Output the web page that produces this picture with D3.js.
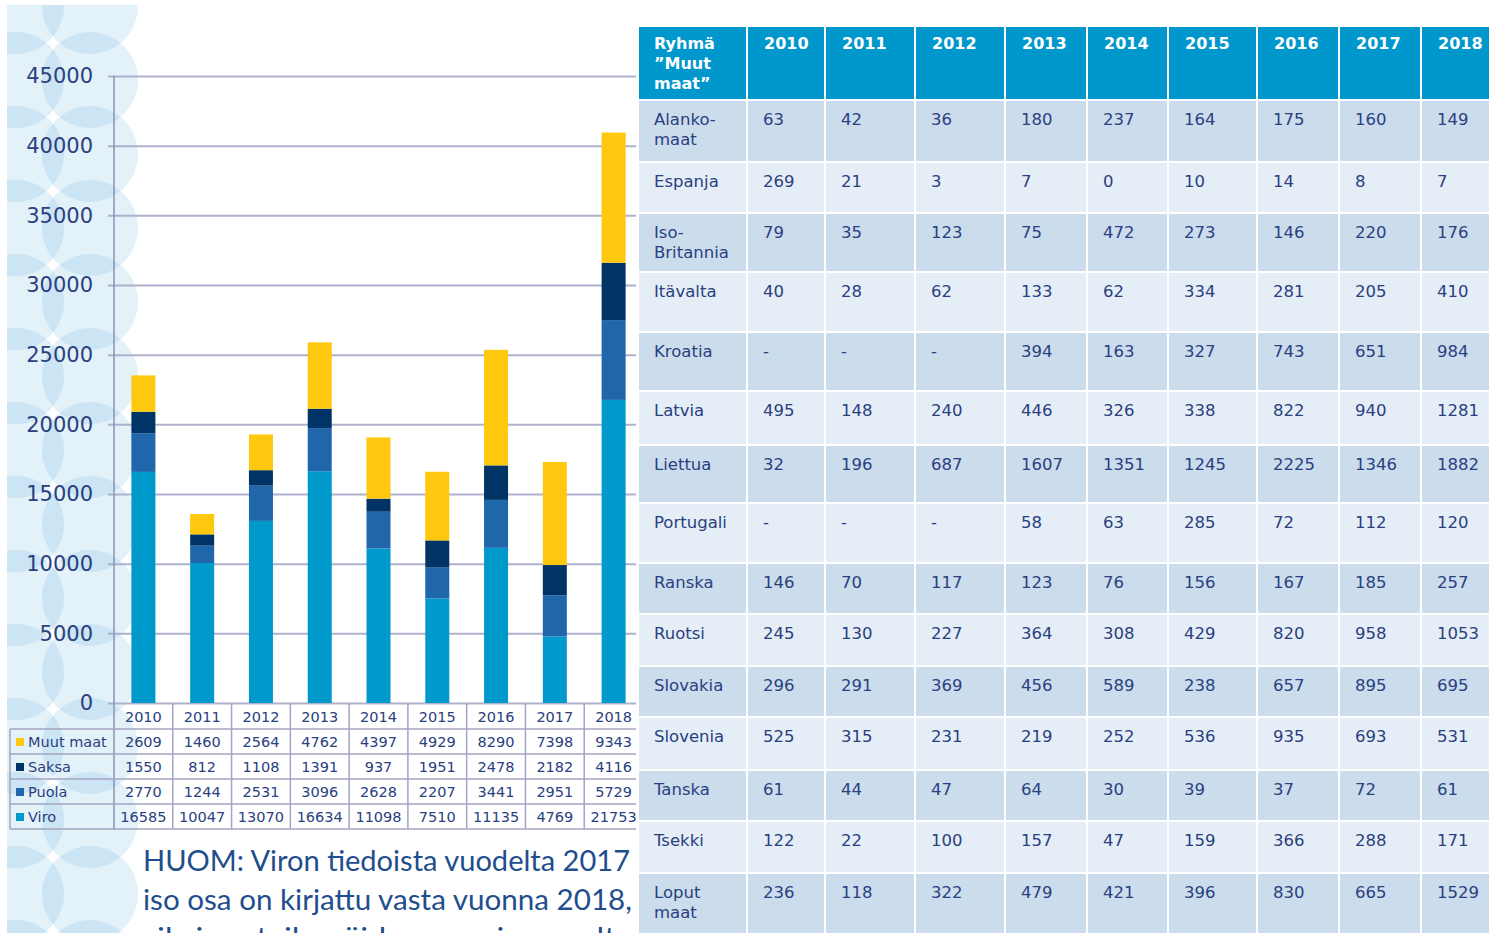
<!DOCTYPE html>
<html>
<head>
<meta charset="utf-8">
<script src="https://cdn.jsdelivr.net/npm/d3@7"></script>
<style>
  body { margin: 0; background: #fff; }
  svg { display: block; }
</style>
</head>
<body>
<svg id="chart" width="1489" height="933"></svg>
<script>
// chart data
const years = ['2010', '2011', '2012', '2013', '2014', '2015', '2016', '2017', '2018'];
const viro = [16585, 10047, 13070, 16634, 11098, 7510, 11135, 4769, 21753];
const puola = [2770, 1244, 2531, 3096, 2628, 2207, 3441, 2951, 5729];
const saksa = [1550, 812, 1108, 1391, 937, 1951, 2478, 2182, 4116];
const muutMaat = [2609, 1460, 2564, 4762, 4397, 4929, 8290, 7398, 9343];
const yTicks = [0, 5000, 10000, 15000, 20000, 25000, 30000, 35000, 40000, 45000];

// table of the "Muut maat" group, null = '-'
const groupHeader = ['Ryhmä', '”Muut', 'maat”'];
const groupLabels = [
    ['Alanko-', 'maat'], ['Espanja'], ['Iso-', 'Britannia'], ['Itävalta'], ['Kroatia'],
    ['Latvia'], ['Liettua'], ['Portugali'], ['Ranska'], ['Ruotsi'], ['Slovakia'],
    ['Slovenia'], ['Tanska'], ['Tsekki'], ['Loput', 'maat']
];
const groupValues = [
    [63, 42, 36, 180, 237, 164, 175, 160, 149],
    [269, 21, 3, 7, 0, 10, 14, 8, 7],
    [79, 35, 123, 75, 472, 273, 146, 220, 176],
    [40, 28, 62, 133, 62, 334, 281, 205, 410],
    [null, null, null, 394, 163, 327, 743, 651, 984],
    [495, 148, 240, 446, 326, 338, 822, 940, 1281],
    [32, 196, 687, 1607, 1351, 1245, 2225, 1346, 1882],
    [null, null, null, 58, 63, 285, 72, 112, 120],
    [146, 70, 117, 123, 76, 156, 167, 185, 257],
    [245, 130, 227, 364, 308, 429, 820, 958, 1053],
    [296, 291, 369, 456, 589, 238, 657, 895, 695],
    [525, 315, 231, 219, 252, 536, 935, 693, 531],
    [61, 44, 47, 64, 30, 39, 37, 72, 61],
    [122, 22, 100, 157, 47, 159, 366, 288, 171],
    [236, 118, 322, 479, 421, 396, 830, 665, 1529]
];

const noteLines = [
    'HUOM: Viron tiedoista vuodelta 2017',
    'iso osa on kirjattu vasta vuonna 2018,',
    'siksi vertailu näiden vuosien osalta'
];

const seriesKeys = ['Viro', 'Puola', 'Saksa', 'Muut maat'];
const seriesColors = {
    'Viro': '#0099cc',
    'Puola': '#1f66aa',
    'Saksa': '#003466',
    'Muut maat': '#fdc80e',
};
const tableOrder = ['Muut maat', 'Saksa', 'Puola', 'Viro'];

const rows = years.map((yr, i) => ({
    year: yr,
    'Viro': viro[i],
    'Puola': puola[i],
    'Saksa': saksa[i],
    'Muut maat': muutMaat[i],
}));

const font = '"DejaVu Sans", Verdana, sans-serif';
const textColor = '#2a4080';
const svg = d3.select('#chart');

// decorative circle pattern on the left
const defs = svg.append('defs');
defs.append('clipPath').attr('id', 'bandClip')
    .append('rect').attr('x', 7).attr('y', 5).attr('width', 133).attr('height', 940);

const circleCenters = [];
for (let k = -1; k < 14; k++) {
    circleCenters.push([16, 6 + 74 * k], [90, 6 + 74 * k]);
}
svg.append('g')
    .attr('clip-path', 'url(#bandClip)')
    .selectAll('circle')
    .data(circleCenters)
    .join('circle')
    .attr('cx', d => d[0])
    .attr('cy', d => d[1])
    .attr('r', 48)
    .attr('fill', '#5aaade')
    .attr('fill-opacity', 0.17);

// stacked bar chart
const x = d3.scaleBand().domain(years).range([114, 643]);
const y = d3.scaleLinear().domain([0, 45000]).range([703, 76]);
const barWidth = 24;

const yAxis = svg.append('g')
    .attr('transform', 'translate(114,0)')
    .call(d3.axisLeft(y).tickValues(yTicks).tickFormat(d3.format('d')).tickSize(-522).tickPadding(21));
yAxis.select('.domain').remove();
yAxis.selectAll('.tick line')
    .attr('x1', -6)
    .attr('x2', 522)
    .attr('stroke', '#aeb1cc')
    .attr('stroke-width', 2);
yAxis.selectAll('.tick text')
    .attr('font-family', font)
    .attr('font-size', 21)
    .attr('fill', textColor);

const stacked = d3.stack().keys(seriesKeys)(rows);

svg.append('g')
    .selectAll('g')
    .data(stacked)
    .join('g')
    .attr('fill', d => seriesColors[d.key])
    .selectAll('rect')
    .data(d => d)
    .join('rect')
    .attr('x', d => x(d.data.year) + (x.bandwidth() - barWidth) / 2)
    .attr('y', d => y(d[1]))
    .attr('width', barWidth)
    .attr('height', d => y(d[0]) - y(d[1]));

// vertical axis line (runs down through the data table)
svg.append('line')
    .attr('x1', 114).attr('x2', 114)
    .attr('y1', 76).attr('y2', 830)
    .attr('stroke', '#8d90b2')
    .attr('stroke-width', 1.5);

// data table under the chart
const tableTop = 704;
const tRowH = 25;
const lineColor = '#a3a4c2';
const tbl = svg.append('g');

[0, 1, 2, 3, 4].forEach(i => {
    const yy = tableTop + tRowH * (i + 1);
    tbl.append('line')
        .attr('x1', 10).attr('x2', 640)
        .attr('y1', yy).attr('y2', yy)
        .attr('stroke', lineColor).attr('stroke-width', 1.5);
});
tbl.append('line')
    .attr('x1', 10).attr('x2', 10)
    .attr('y1', tableTop + tRowH).attr('y2', tableTop + tRowH * 5)
    .attr('stroke', lineColor).attr('stroke-width', 1.5);
years.forEach(yr => {
    const xx = x(yr) + x.bandwidth();
    tbl.append('line')
        .attr('x1', xx).attr('x2', xx)
        .attr('y1', tableTop).attr('y2', tableTop + tRowH * 5)
        .attr('stroke', lineColor).attr('stroke-width', 1.5);
});

tbl.selectAll('text.year')
    .data(years)
    .join('text')
    .attr('class', 'year')
    .attr('x', d => x(d) + x.bandwidth() / 2)
    .attr('y', tableTop + 18)
    .attr('text-anchor', 'middle')
    .attr('font-family', font)
    .attr('font-size', 14.5)
    .attr('fill', textColor)
    .text(d => d);

tableOrder.forEach((key, r) => {
    const rowY = tableTop + tRowH * (r + 1);
    tbl.append('rect')
        .attr('x', 16).attr('y', rowY + 9)
        .attr('width', 8).attr('height', 8)
        .attr('fill', seriesColors[key]);
    tbl.append('text')
        .attr('x', 28).attr('y', rowY + 18)
        .attr('font-family', font)
        .attr('font-size', 14.5)
        .attr('fill', textColor)
        .text(key);
    tbl.selectAll(null)
        .data(rows)
        .join('text')
        .attr('x', d => x(d.year) + x.bandwidth() / 2)
        .attr('y', rowY + 18)
        .attr('text-anchor', 'middle')
        .attr('font-family', font)
        .attr('font-size', 14.5)
        .attr('fill', textColor)
        .text(d => d[key]);
});

// note text (third line is cut by the bottom edge, as in the slide)
svg.append('g')
    .selectAll('text')
    .data(noteLines)
    .join('text')
    .attr('x', 143)
    .attr('y', (d, i) => 871 + i * 38.5)
    .attr('font-family', 'Lato, "Open Sans", sans-serif')
    .attr('font-size', 29)
    .attr('fill', '#1f4e8d')
    .attr('textLength', (d, i) => i === 0 ? 487 : 489)
    .attr('lengthAdjust', 'spacingAndGlyphs')
    .text(d => d);

// right-hand table
const colEdges = [638, 747, 825, 915, 1005, 1087, 1168, 1257, 1339, 1421, 1500];
const colX = d3.scaleOrdinal().domain(['label', ...years]).range(colEdges.slice(0, -1));
const colW = d3.scaleOrdinal().domain(['label', ...years])
    .range(colEdges.slice(0, -1).map((e, i) => colEdges[i + 1] - e));
const rowTops = [101, 163, 214, 273, 333, 392, 446, 504, 564, 615, 667, 718, 771, 822, 874, 936];
const headerTop = 27;
const cols = ['label', ...years];

const rt = svg.append('g');
rt.append('rect')
    .attr('x', 636).attr('y', headerTop - 2)
    .attr('width', 860).attr('height', 920)
    .attr('fill', '#fff');

rt.selectAll('rect.head')
    .data(cols)
    .join('rect')
    .attr('class', 'head')
    .attr('x', d => colX(d) + 1)
    .attr('y', headerTop)
    .attr('width', d => colW(d) - 2)
    .attr('height', rowTops[0] - headerTop - 2)
    .attr('fill', '#0098cc');

rt.append('text')
    .attr('x', colX('label') + 16)
    .attr('y', headerTop + 22)
    .attr('font-family', font)
    .attr('font-weight', 'bold')
    .attr('font-size', 16)
    .attr('fill', '#fff')
    .selectAll('tspan')
    .data(groupHeader)
    .join('tspan')
    .attr('x', colX('label') + 16)
    .attr('dy', (d, i) => i === 0 ? 0 : 20)
    .text(d => d);

rt.selectAll('text.headyear')
    .data(years)
    .join('text')
    .attr('class', 'headyear')
    .attr('x', d => colX(d) + 17)
    .attr('y', headerTop + 22)
    .attr('font-family', font)
    .attr('font-weight', 'bold')
    .attr('font-size', 16)
    .attr('fill', '#fff')
    .text(d => d);

groupLabels.forEach((lab, r) => {
    const top = rowTops[r];
    const h = rowTops[r + 1] - top - 2;
    const fill = r % 2 === 0 ? '#cbdcec' : '#e5eef6';
    const g = rt.append('g');
    g.selectAll('rect')
        .data(cols)
        .join('rect')
        .attr('x', d => colX(d) + 1)
        .attr('y', top)
        .attr('width', d => colW(d) - 2)
        .attr('height', h)
        .attr('fill', fill);
    g.append('text')
        .attr('font-family', font)
        .attr('font-size', 16.5)
        .attr('fill', textColor)
        .attr('y', top + 24)
        .selectAll('tspan')
        .data(lab)
        .join('tspan')
        .attr('x', colX('label') + 16)
        .attr('dy', (d, i) => i === 0 ? 0 : 20)
        .text(d => d);
    g.selectAll('text.val')
        .data(groupValues[r])
        .join('text')
        .attr('class', 'val')
        .attr('x', (d, i) => colX(years[i]) + 16)
        .attr('y', top + 24)
        .attr('font-family', font)
        .attr('font-size', 16.5)
        .attr('fill', textColor)
        .text(d => d === null ? '-' : d);
});
</script>
</body>
</html>
